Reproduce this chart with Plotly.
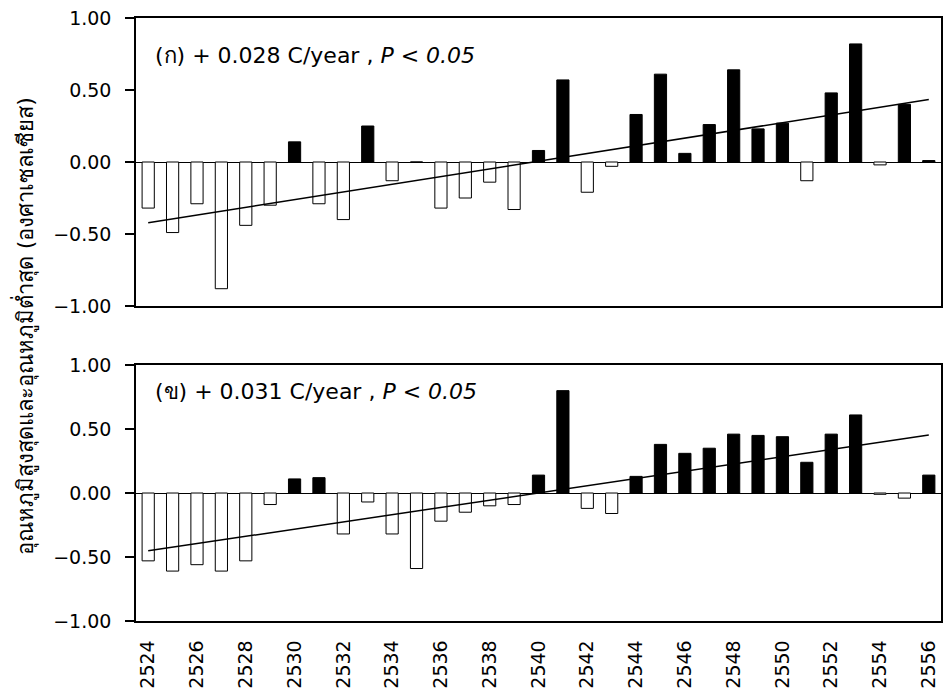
import numpy as np
import plotly.graph_objects as go
from plotly.subplots import make_subplots

years = list(range(2524, 2557))

# (ก) panel values (anomaly, deg C)
vals_a = [-0.32, -0.49, -0.29, -0.88, -0.44, -0.30, 0.14, -0.29, -0.40, 0.25,
          -0.13, 0.00, -0.32, -0.25, -0.14, -0.33, 0.08, 0.57, -0.21, -0.03,
          0.33, 0.61, 0.06, 0.26, 0.64, 0.23, 0.27, -0.13, 0.48, 0.82,
          -0.02, 0.40, 0.01]

# (ข) panel values
vals_b = [-0.53, -0.61, -0.56, -0.61, -0.53, -0.09, 0.11, 0.12, -0.32, -0.07,
          -0.32, -0.59, -0.22, -0.15, -0.10, -0.09, 0.14, 0.80, -0.12, -0.16,
          0.13, 0.38, 0.31, 0.35, 0.46, 0.45, 0.44, 0.24, 0.46, 0.61,
          -0.01, -0.04, 0.14]

label_a = "(ก) + 0.028 C/year , <i>P < 0.05</i>"
label_b = "(ข) + 0.031 C/year , <i>P < 0.05</i>"
y_title = "อุณหภูมิสูงสุดและอุณหภูมิต่ำสุด (องศาเซลเซียส)"
x_ticks = list(range(2524, 2557, 2))
y_ticks = [-1.0, -0.5, 0.0, 0.5, 1.0]

FONT = "DejaVu Sans, Verdana, sans-serif"

fig = make_subplots(rows=2, cols=1, shared_xaxes=False, vertical_spacing=0.0)

for row, vals in ((1, vals_a), (2, vals_b)):
    colors = ["black" if v > 0 else "white" for v in vals]
    fig.add_trace(go.Bar(x=years, y=vals, width=0.5,
                         marker=dict(color=colors, line=dict(color="black", width=1)),
                         showlegend=False), row=row, col=1)
    coef = np.polyfit(years, vals, 1)
    xs = [years[0], years[-1]]
    ys = [float(np.polyval(coef, x)) for x in xs]
    fig.add_trace(go.Scatter(x=xs, y=ys, mode="lines",
                             line=dict(color="black", width=1.5),
                             showlegend=False), row=row, col=1)

axis_common = dict(showline=True, linecolor="black", linewidth=1.5, mirror=True,
                   showgrid=False, automargin=False)

fig.update_xaxes(**axis_common, range=[2523.5, 2556.5], zeroline=False)
fig.update_xaxes(showticklabels=False, ticks="", row=1, col=1, domain=[0, 1])
fig.update_xaxes(tickvals=x_ticks, ticktext=[str(t) for t in x_ticks],
                 tickangle=-90, ticks="", ticklabelstandoff=10,
                 tickfont=dict(family=FONT, size=19, color="black"), row=2, col=1)

fig.update_yaxes(**axis_common, range=[-1, 1], tickvals=y_ticks, tickformat=".2f",
                 ticks="outside", ticklen=9, tickcolor="black", tickwidth=1.5,
                 ticklabelstandoff=10,
                 zeroline=True, zerolinecolor="black", zerolinewidth=1.2,
                 tickfont=dict(family=FONT, size=19, color="black"))
fig.update_yaxes(domain=[0.5224, 1.0], row=1, col=1)
fig.update_yaxes(domain=[0.0, 0.4245], row=2, col=1)

fig.add_annotation(text=label_a, xref="paper", yref="paper", x=0.021, y=0.9386,
                   xanchor="left", yanchor="middle", showarrow=False,
                   font=dict(family=FONT, size=22, color="black"))
fig.add_annotation(text=label_b, xref="paper", yref="paper", x=0.021, y=0.3798,
                   xanchor="left", yanchor="middle", showarrow=False,
                   font=dict(family=FONT, size=22, color="black"))
fig.add_annotation(text=y_title, xref="paper", yref="paper", x=-0.139, y=0.489,
                   xanchor="center", yanchor="middle", textangle=-90, showarrow=False,
                   font=dict(family=FONT, size=22, color="black"))

fig.update_layout(width=946, height=693, margin=dict(l=136, r=5, t=18, b=72),
                  plot_bgcolor="white", paper_bgcolor="white", bargap=0.5)

fig.write_html("out.html", config={"displayModeBar": False},
               post_script="document.body.style.margin='0';"
                           "document.body.style.overflow='hidden';"
                           "document.documentElement.style.overflow='hidden';")
